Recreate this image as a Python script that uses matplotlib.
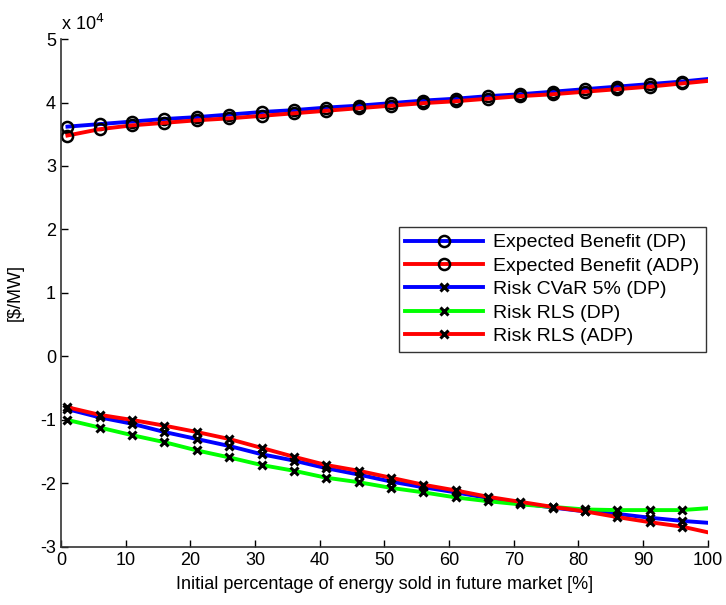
import matplotlib
matplotlib.use("Agg")
import matplotlib.pyplot as plt
from matplotlib.ticker import FuncFormatter

# percentage sold in future market
pct = [1, 6, 11, 16, 21, 26, 31, 36, 41, 46, 51, 56, 61, 66, 71, 76, 81, 86, 91, 96, 100]

# values in $/MW
eb_dp = [36200, 36600, 37000, 37400, 37700, 38100, 38500, 38800, 39200, 39500, 39900,
         40300, 40600, 41000, 41300, 41700, 42100, 42500, 42900, 43300, 43700]
eb_adp = [34800, 35800, 36400, 36800, 37200, 37500, 37900, 38300, 38700, 39100, 39500,
          39900, 40200, 40600, 41000, 41300, 41700, 42100, 42500, 43000, 43400]
cvar_dp = [-8300, -9600, -10600, -11900, -13000, -14100, -15400, -16400, -17600, -18600, -19700,
           -20600, -21400, -22300, -23100, -23800, -24400, -24800, -25400, -25900, -26200]
rls_dp = [-10000, -11200, -12400, -13500, -14800, -15900, -17100, -18000, -19100, -19800, -20700,
          -21400, -22200, -22800, -23300, -23700, -24100, -24200, -24200, -24200, -23900]
rls_adp = [-8000, -9200, -10000, -10900, -11900, -13000, -14400, -15800, -17100, -18000, -19100,
           -20200, -21100, -22100, -22900, -23700, -24400, -25300, -26100, -26800, -27700]

plt.rcParams['font.family'] = ['Liberation Sans', 'DejaVu Sans']

fig = plt.figure(figsize=(7.26, 6.05), dpi=100)
ax = fig.add_axes([0.084, 0.096, 0.891, 0.8395])

mk = slice(0, 20)
circ = dict(marker='o', markersize=8, markerfacecolor='none', markeredgecolor='black',
            markeredgewidth=1.8, markevery=mk)
cross = dict(marker='x', markersize=6, markeredgecolor='black', markeredgewidth=2.2, markevery=mk)

ax.plot(pct, eb_dp, color='#0000ff', linewidth=2.8, label='Expected Benefit (DP)', **circ)
ax.plot(pct, eb_adp, color='#ff0000', linewidth=2.8, label='Expected Benefit (ADP)', **circ)
ax.plot(pct, cvar_dp, color='#0000ff', linewidth=2.8, label='Risk CVaR 5% (DP)', **cross)
ax.plot(pct, rls_dp, color='#00ff00', linewidth=2.8, label='Risk RLS (DP)', **cross)
ax.plot(pct, rls_adp, color='#ff0000', linewidth=2.8, label='Risk RLS (ADP)', **cross)

ax.set_xlim(0, 100)
ax.set_ylim(-30000, 50000)
ax.set_xticks(range(0, 101, 10))
ax.set_yticks(range(-30000, 50001, 10000))
ax.yaxis.set_major_formatter(FuncFormatter(lambda v, p: '%d' % round(v / 1e4)))
ax.tick_params(direction='in', length=5, labelsize=13, width=1)
ax.spines['top'].set_visible(False)
ax.spines['right'].set_visible(False)
for s in ('left', 'bottom'):
    ax.spines[s].set_linewidth(1.2)
    ax.spines[s].set_color('#333333')

ax.text(0.0, 1.01, r'x 10$^{4}$', transform=ax.transAxes, fontsize=13, ha='left', va='bottom')
ax.set_xlabel('Initial percentage of energy sold in future market [%]', fontsize=13, labelpad=5)
ax.set_ylabel(r'[\$/MW]', fontsize=13, labelpad=12)

leg = ax.legend(loc='upper right', bbox_to_anchor=(0.997, 0.63), fontsize=14, frameon=True,
                fancybox=False, edgecolor='black', handlelength=4.0, borderpad=0.35,
                labelspacing=0.3, handletextpad=0.5, borderaxespad=0.0)
leg.get_frame().set_linewidth(1.0)

fig.savefig('out.png', dpi=100)
